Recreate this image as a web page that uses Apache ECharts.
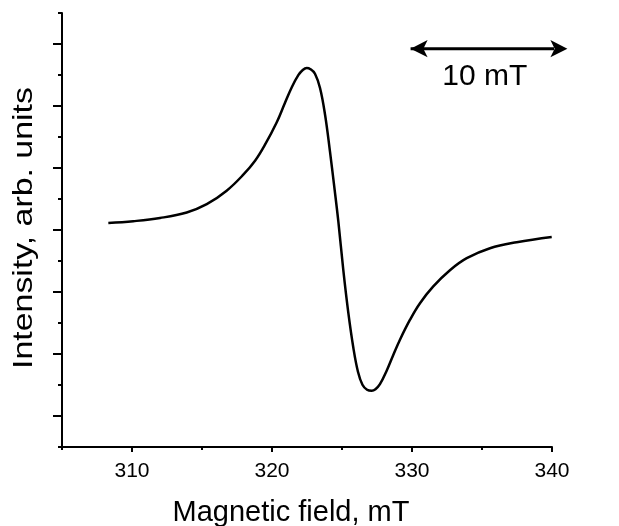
<!DOCTYPE html>
<html>
<head>
<meta charset="utf-8">
<script src="https://cdn.jsdelivr.net/npm/echarts@6/dist/echarts.min.js"></script>
<style>
html,body{margin:0;padding:0;background:#fff;}
#chart{width:619px;height:526px;}
</style>
</head>
<body>
<div id="chart"></div>
<script>
// Magnetic field (mT)
var fieldX = [308.31, 310.09, 312.00, 313.91, 315.34, 316.76, 317.95, 318.79, 319.50, 320.34,
  320.93, 321.43, 321.88, 322.18, 322.48, 322.75, 323.07, 323.43, 323.79, 324.14,
  324.43, 324.74, 325.09, 325.45, 325.81, 326.14, 326.46, 326.79, 327.12, 327.39,
  327.71, 328.19, 328.64, 329.14, 329.86, 330.57, 331.52, 332.71, 333.91, 335.57,
  337.48, 339.98];
// Intensity (arb. units)
var intensityY = [7.226, 7.284, 7.387, 7.565, 7.832, 8.268, 8.784, 9.235, 9.752, 10.477,
  11.106, 11.623, 11.994, 12.155, 12.226, 12.187, 12.042, 11.581, 10.719, 9.535,
  8.461, 7.268, 5.719, 4.332, 3.203, 2.429, 2.010, 1.848, 1.816, 1.865,
  2.026, 2.461, 2.945, 3.461, 4.106, 4.639, 5.181, 5.703, 6.090, 6.413,
  6.606, 6.774];
var xMajorTicks = [310, 320, 330, 340];
var xMinorTicks = [305, 315, 325, 335];
var xRange = [305, 340];
var yRange = [0, 14];
// scale bar annotation
var scaleBarX = [329.9, 341.1];
var scaleBarY = 12.85;
var scaleBarLabel = '10 mT';
var scaleLabelPos = [335.2, 11.93];
var xTitle = 'Magnetic field, mT';
var yTitle = 'Intensity, arb. units';

var FONT = '"Liberation Sans", Arial, sans-serif';
var chart = echarts.init(document.getElementById('chart'), null, {renderer: 'canvas'});
var curve = fieldX.map(function (x, i) { return [x, intensityY[i]]; });

chart.setOption({
  animation: false,
  backgroundColor: '#ffffff',
  grid: {left: 62, right: 67, top: 13, bottom: 79, containLabel: false, outerBoundsMode: 'none'},
  xAxis: [{
    type: 'value', min: xRange[0], max: xRange[1], interval: 5,
    name: xTitle, nameLocation: 'middle', nameGap: 51,
    nameTextStyle: {fontSize: 29, color: '#000', fontFamily: FONT, padding: [0, 32, 0, 0]},
    axisLine: {show: true, onZero: false, lineStyle: {color: '#000', width: 2}},
    axisTick: {show: true, customValues: xMajorTicks, length: 5, lineStyle: {color: '#000', width: 2}},
    axisLabel: {show: true, customValues: xMajorTicks, fontSize: 21, color: '#000', fontFamily: FONT, margin: 14},
    splitLine: {show: false}
  }, {
    type: 'value', min: xRange[0], max: xRange[1], interval: 5, position: 'bottom',
    axisLine: {show: false},
    axisTick: {show: true, customValues: xMinorTicks, length: 3, lineStyle: {color: '#000', width: 2}},
    axisLabel: {show: false},
    splitLine: {show: false}
  }],
  yAxis: {
    type: 'value', min: yRange[0], max: yRange[1], interval: 2,
    axisLine: {show: true, onZero: false, lineStyle: {color: '#000', width: 2}},
    axisTick: {show: true, length: 4, lineStyle: {color: '#000', width: 2}},
    minorTick: {show: true, splitNumber: 2, length: 9, lineStyle: {color: '#000', width: 2}},
    axisLabel: {show: false},
    splitLine: {show: false},
    minorSplitLine: {show: false}
  },
  graphic: [{
    type: 'text', x: 24, y: 228, rotation: Math.PI / 2, scaleX: 1.21, scaleY: 1,
    style: {text: yTitle, font: '28px "Liberation Sans", Arial, sans-serif', fill: '#000',
      textAlign: 'center', textVerticalAlign: 'middle'}
  }],
  series: [{
    type: 'line', data: curve, smooth: 0.4, showSymbol: false, symbol: 'none',
    lineStyle: {color: '#000', width: 2.5}
  }, {
    type: 'line', clip: false, symbol: 'arrow', symbolSize: [13, 17], showSymbol: true,
    data: [
      {value: [scaleBarX[0], scaleBarY], symbolRotate: 90},
      {value: [scaleBarX[1], scaleBarY], symbolRotate: -90}
    ],
    itemStyle: {color: '#000'},
    lineStyle: {color: '#000', width: 3}
  }, {
    type: 'scatter', symbolSize: 0, clip: false,
    itemStyle: {opacity: 1, color: '#000'},
    data: [scaleLabelPos],
    label: {show: true, position: 'inside', formatter: scaleBarLabel, fontSize: 30, color: '#000',
      opacity: 1, fontFamily: FONT}
  }]
});
</script>
</body>
</html>
